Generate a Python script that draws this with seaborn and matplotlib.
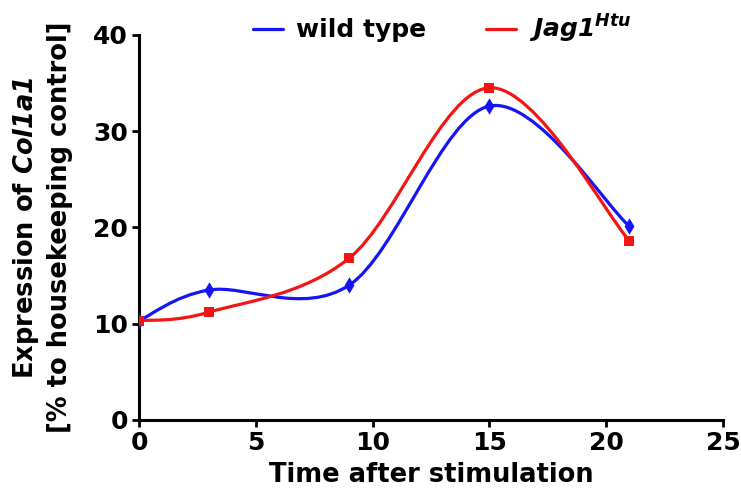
import matplotlib
matplotlib.use("Agg")
import numpy as np
import matplotlib.pyplot as plt
from matplotlib.path import Path
from matplotlib.patches import PathPatch
from matplotlib.lines import Line2D
import seaborn as sns

# data
time_points = [0, 3, 9, 15, 21]
wild_type = [10.3, 13.5, 14.0, 32.6, 20.1]
jag1_htu = [10.3, 11.2, 16.8, 34.5, 18.6]

series_names = ["wild type", r"$\mathbfit{Jag1}^{\mathbfit{Htu}}$"]
series_colors = ["#1414f5", "#f51414"]
series_markers = ["d", "s"]

sns.set_style("white")
plt.rcParams["font.family"] = ["DejaVu Sans"]
plt.rcParams["font.weight"] = "bold"
plt.rcParams["mathtext.fontset"] = "dejavusans"
plt.rcParams["text.color"] = "black"
plt.rcParams["axes.labelcolor"] = "black"


def smooth_path(xs, ys):
    # Excel-style smoothed line: cubic Bezier segments, Catmull-Rom tangents
    pts = np.column_stack([xs, ys]).astype(float)
    n = len(pts)
    verts = [pts[0]]
    codes = [Path.MOVETO]
    for i in range(n - 1):
        p0 = pts[i - 1] if i > 0 else pts[i]
        p1 = pts[i]
        p2 = pts[i + 1]
        p3 = pts[i + 2] if i + 2 < n else pts[i + 1]
        c1 = p1 + (p2 - p0) / 6.0
        c2 = p2 - (p3 - p1) / 6.0
        verts += [c1, c2, p2]
        codes += [Path.CURVE4] * 3
    return Path(verts, codes)


fig = plt.figure(figsize=(7.41, 4.97), dpi=100)
ax = fig.add_axes([0.1876, 0.155, 0.788, 0.775])

for vals, name, col, mk in zip([wild_type, jag1_htu], series_names,
                               series_colors, series_markers):
    ax.add_patch(PathPatch(smooth_path(time_points, vals), fill=False,
                           edgecolor=col, lw=2.3, zorder=2))
    sns.scatterplot(x=time_points, y=vals, ax=ax, marker=mk, color=col,
                    s=55 if mk == "s" else 70, edgecolor=col, linewidth=0,
                    zorder=3, legend=False)

ax.set_xlim(0, 25)
ax.set_ylim(0, 40)
ax.set_xticks([0, 5, 10, 15, 20, 25])
ax.set_yticks([0, 10, 20, 30, 40])
ax.tick_params(axis="both", labelsize=18, width=2, length=5, direction="out",
               colors="black", pad=3)
ax.tick_params(axis="x", bottom=True)
ax.tick_params(axis="y", left=True)
for lab in ax.get_xticklabels() + ax.get_yticklabels():
    lab.set_fontweight("bold")

for side in ["top", "right"]:
    ax.spines[side].set_visible(False)
for side in ["left", "bottom"]:
    ax.spines[side].set_linewidth(2.2)
    ax.spines[side].set_color("black")

ax.set_xlabel("Time after stimulation", fontsize=18.5, fontweight="bold",
              labelpad=5)
ax.set_ylabel("Expression of $\\mathbfit{Col1a1}$\n[% to housekeeping control]",
              fontsize=18.5, fontweight="bold", labelpad=14, linespacing=1.3)

handles = [Line2D([0], [0], color=c, lw=2.3) for c in series_colors]
fig.legend(handles, series_names, loc="upper center",
           bbox_to_anchor=(0.597, 1.02), ncol=2, frameon=False,
           prop={"size": 18, "weight": "bold"}, handlelength=1.2,
           columnspacing=2.4, handletextpad=0.5)

fig.savefig("out.png", dpi=100)
